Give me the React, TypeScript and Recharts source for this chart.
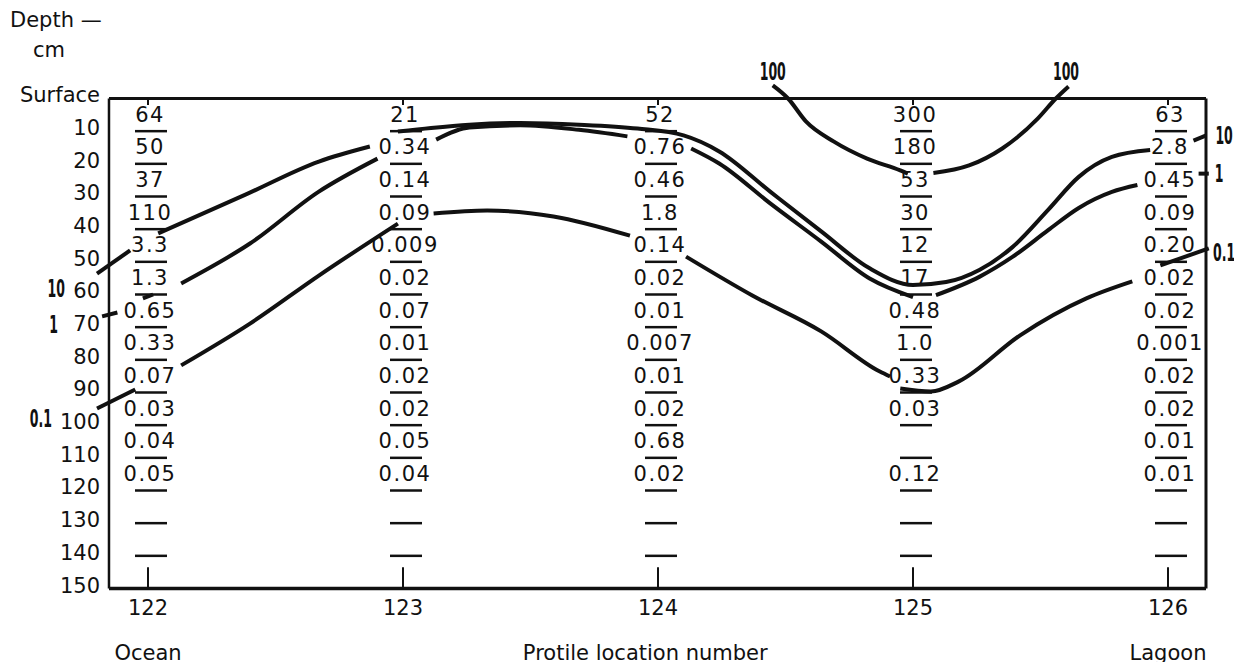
import { ComposedChart, Line, Scatter, XAxis, YAxis, ReferenceLine, ReferenceDot } from 'recharts';

const FONT = "'DejaVu Sans', 'Noto Sans', sans-serif";

// profile stations and the sampled depth intervals (cm)
const stations = [122, 123, 124, 125, 126];
const endNames = ['Ocean', '', '', '', 'Lagoon'];
const depthTicks = [0, 10, 20, 30, 40, 50, 60, 70, 80, 90, 100, 110, 120, 130, 140, 150];
const sampleDepths = [5, 15, 25, 35, 45, 55, 65, 75, 85, 95, 105, 115];
const boundaryDepths = [10, 20, 30, 40, 50, 60, 70, 80, 90, 100, 110, 120, 130, 140];
const frame = { left: 121.847, right: 126.149, top: 0, bottom: 150 };

const values122 = ['64', '50', '37', '110', '3.3', '1.3', '0.65', '0.33', '0.07', '0.03', '0.04', '0.05'];
const values123 = ['21', '0.34', '0.14', '0.09', '0.009', '0.02', '0.07', '0.01', '0.02', '0.02', '0.05', '0.04'];
const values124 = ['52', '0.76', '0.46', '1.8', '0.14', '0.02', '0.01', '0.007', '0.01', '0.02', '0.68', '0.02'];
const values125 = ['300', '180', '53', '30', '12', '17', '0.48', '1.0', '0.33', '0.03', '', '0.12'];
const values126 = ['63', '2.8', '0.45', '0.09', '0.20', '0.02', '0.02', '0.001', '0.02', '0.02', '0.01', '0.01'];
const columns = [values122, values123, values124, values125, values126];

// isolines, [station, depth] pairs, broken where the pen stops at a number
type Pt = [number, number];
const contour100: Pt[][] = [
  [[124.45, -4.0], [124.51, 0], [124.58, 7.0], [124.69, 13.2], [124.82, 18.4], [124.95, 22.0], [124.98, 23.0]],
  [[125.08, 22.8], [125.22, 20.5], [125.35, 15.3], [125.49, 6.1], [125.56, 0], [125.61, -3.7]],
];
const contour10: Pt[][] = [
  [[121.8, 53.6], [121.93, 46.5]],
  [[122.04, 41.3], [122.38, 29.5], [122.67, 19.3], [122.87, 14.7]],
  [[122.98, 10.1], [123.11, 9.0], [123.26, 8.0], [123.46, 7.5], [123.69, 8.0], [123.92, 9.2], [124.1, 11.3],
    [124.24, 16.2], [124.44, 28.5], [124.64, 40.7], [124.83, 52.0], [125.0, 57.1], [125.13, 56.2],
    [125.26, 52.5], [125.39, 45.5], [125.53, 34.1], [125.65, 24.0], [125.78, 17.9], [125.93, 15.8]],
  [[126.1, 12.9], [126.15, 11.3]],
];
const contour1: Pt[][] = [
  [[121.82, 66.7], [121.88, 65.5]],
  [[121.98, 61.2], [122.02, 60.0]],
  [[122.13, 56.6], [122.4, 44.4], [122.67, 28.5], [122.9, 18.4]],
  [[123.13, 12.6], [123.26, 8.9], [123.46, 8.2], [123.69, 9.6], [123.88, 11.6]],
  [[124.13, 15.3], [124.24, 19.9], [124.44, 32.1], [124.64, 43.8], [124.83, 55.1], [125.0, 60.8]],
  [[125.09, 60.2], [125.26, 54.6], [125.39, 48.5], [125.53, 40.3], [125.65, 33.5], [125.78, 28.6], [125.88, 26.5]],
  [[126.12, 23.0], [126.16, 23.0]],
];
const contour01: Pt[][] = [
  [[121.8, 94.9], [121.95, 89.1]],
  [[122.13, 81.7], [122.4, 68.9], [122.67, 54.2], [122.98, 38.3]],
  [[123.12, 35.2], [123.33, 34.3], [123.59, 36.1], [123.89, 42.0]],
  [[124.11, 48.4], [124.37, 60.3], [124.64, 71.3], [124.87, 83.6], [124.91, 85.1]],
  [[124.95, 88.8], [125.07, 89.7], [125.18, 86.6], [125.42, 72.5], [125.68, 61.2], [125.86, 56.0]],
  [[125.97, 51.1], [126.16, 45.9]],
];

const contourLabels = [
  { text: '100', s: 124.45, d: -8.1 },
  { text: '100', s: 125.6, d: -8.1 },
  { text: '10', s: 121.64, d: 58.3 },
  { text: '1', s: 121.63, d: 69.3 },
  { text: '0.1', s: 121.58, d: 98.1 },
  { text: '10', s: 126.22, d: 11.5 },
  { text: '1', s: 126.2, d: 23.1 },
  { text: '0.1', s: 126.22, d: 47.3 },
];

const segments = [contour100, contour10, contour1, contour01].flatMap((c, ci) =>
  c.map((seg, si) => ({ key: `c${ci}-${si}`, data: seg.map(([s, d]) => ({ s, d })) }))
);

const cells = stations.flatMap((st, i) =>
  columns[i].map((v, j) => ({ s: st, d: sampleDepths[j], v })).filter((c) => c.v !== '')
);
const bars = stations.flatMap((st) => boundaryDepths.map((d) => ({ s: st, d })));

const DepthTick = ({ x, y, payload }: any) => (
  <text x={x + 28.5} y={y - 3} textAnchor="end" dominantBaseline="central" fontSize={21} fontFamily={FONT} fill="#111">
    {payload.value === 0 ? 'Surface' : payload.value}
  </text>
);

const StationTick = ({ x, y, payload }: any) => {
  const name = endNames[stations.indexOf(payload.value)];
  return (
    <g fontFamily={FONT} fontSize={21} fill="#111">
      <text x={x} y={y + 26} textAnchor="middle">{payload.value}</text>
      {name && <text x={x} y={y + 71} textAnchor="middle">{name}</text>}
    </g>
  );
};

const CellText = (p: any) => (
  <text x={p.cx + 2} y={p.cy} textAnchor="middle" dominantBaseline="central" fontSize={21}
    letterSpacing={1.5} fontFamily={FONT} fill="#111">
    {p.payload.v}
  </text>
);

const CellBar = (p: any) => (
  <line x1={p.cx - 13} x2={p.cx + 19} y1={p.cy} y2={p.cy} stroke="#111" strokeWidth={2.5} />
);

export default function App() {
  return (
    <div style={{ position: 'relative', width: 1226, height: 662, marginBottom: -8, fontFamily: FONT, color: '#111' }}>
      <div style={{ position: 'absolute', left: 2, top: 2, fontSize: 21, lineHeight: '21px' }}>Depth —</div>
      <div style={{ position: 'absolute', left: 25, top: 32, fontSize: 21, lineHeight: '21px' }}>cm</div>
      <ComposedChart width={1226} height={662} margin={{ top: 57.83, right: 15, bottom: 0, left: 0 }}>
        <XAxis
          type="number"
          dataKey="s"
          domain={[121.7, 126.2]}
          ticks={stations}
          tick={<StationTick />}
          tickSize={0}
          tickMargin={0}
          axisLine={false}
          tickLine={false}
          height={81.5}
          label={{ value: 'Protile location number', position: 'insideBottom', offset: 10, fontSize: 21, fill: '#111', fontFamily: FONT }}
        />
        <YAxis
          type="number"
          dataKey="d"
          reversed
          domain={[-10, 150]}
          ticks={depthTicks}
          tick={<DepthTick />}
          tickSize={0}
          tickMargin={0}
          axisLine={false}
          tickLine={false}
          width={63.5}
        />

        {/* frame */}
        <ReferenceLine segment={[{ x: frame.left, y: frame.top }, { x: frame.right, y: frame.top }]} stroke="#111" strokeWidth={3} />
        <ReferenceLine segment={[{ x: frame.left, y: frame.bottom }, { x: frame.right, y: frame.bottom }]} stroke="#111" strokeWidth={3.5} />
        <ReferenceLine segment={[{ x: frame.left, y: frame.top }, { x: frame.left, y: frame.bottom }]} stroke="#111" strokeWidth={2.5} />
        <ReferenceLine segment={[{ x: frame.right, y: frame.top }, { x: frame.right, y: frame.bottom }]} stroke="#111" strokeWidth={3} />
        {stations.map((st) => (
          <ReferenceLine key={`tb${st}`} segment={[{ x: st, y: 150 }, { x: st, y: 143.5 }]} stroke="#111" strokeWidth={2} />
        ))}
        {stations.map((st) => (
          <ReferenceLine key={`tt${st}`} segment={[{ x: st, y: 0 }, { x: st, y: 2 }]} stroke="#111" strokeWidth={2} />
        ))}

        <Scatter data={bars} dataKey="d" shape={<CellBar />} isAnimationActive={false} legendType="none" />
        <Scatter data={cells} dataKey="d" shape={<CellText />} isAnimationActive={false} legendType="none" />

        {segments.map((seg) => (
          <Line
            key={seg.key}
            data={seg.data}
            dataKey="d"
            type="monotone"
            stroke="#111"
            strokeWidth={4}
            dot={false}
            activeDot={false}
            isAnimationActive={false}
            legendType="none"
          />
        ))}

        {contourLabels.map((l, i) => (
          <ReferenceDot
            key={`lab${i}`}
            x={l.s}
            y={l.d}
            ifOverflow="visible"
            shape={(p: any) => (
              <text
                transform={`translate(${p.cx},${p.cy}) scale(0.5,1)`}
                textAnchor="middle"
                dominantBaseline="central"
                fontSize={25}
                fontWeight="bold"
                fontFamily={FONT}
                fill="#111"
              >
                {l.text}
              </text>
            )}
          />
        ))}
      </ComposedChart>
    </div>
  );
}
